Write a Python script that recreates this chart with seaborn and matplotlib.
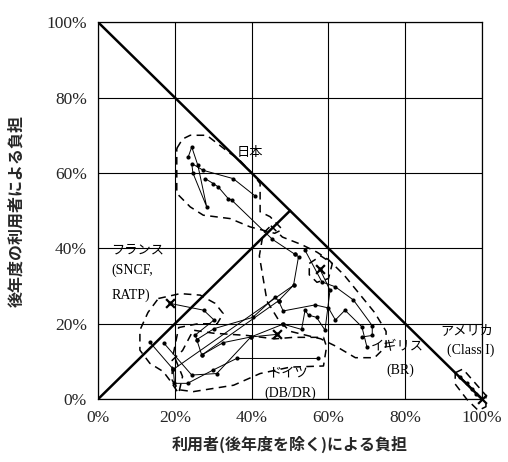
import matplotlib
matplotlib.use("Agg")
import matplotlib.pyplot as plt
import seaborn as sns
import pandas as pd

# ---------------- data (percent) ----------------
japan_a_x = [23.5, 24.4, 26.0, 28.3, 24.7, 24.4, 27.4, 35.2, 40.9]
japan_a_y = [64.3, 66.9, 62.0, 51.0, 60.0, 62.5, 60.7, 58.5, 53.9]
japan_b_x = [27.9, 30.0, 31.3, 33.9, 34.8, 45.4, 51.3]
japan_b_y = [58.5, 57.2, 56.3, 53.2, 52.8, 42.4, 38.4]

uk_a_x = [51.3, 52.2, 50.9, 47.0, 48.2, 56.5, 60.0, 61.8, 64.3, 68.7, 70.0]
uk_a_y = [38.4, 37.8, 30.2, 26.1, 23.4, 25.0, 24.2, 21.0, 23.6, 19.2, 13.9]
uk_b_x = [53.9, 58.3, 61.8, 66.5, 71.4, 71.4, 68.7]
uk_b_y = [39.5, 31.1, 29.8, 26.3, 19.5, 16.9, 16.5]
uk_c_x = [48.2, 53.0, 53.9, 54.8, 56.9, 59.1, 60.4, 57.8]
uk_c_y = [19.9, 18.5, 23.6, 22.3, 21.7, 18.3, 28.9, 34.4]

fr_x = [18.75, 27.5, 30.2, 25.3, 25.7, 30.2, 40.3, 46.0, 47.0]
fr_y = [25.4, 23.6, 21.0, 17.0, 15.8, 18.7, 21.7, 27.0, 26.1]

de_a_x = [13.4, 19.6, 19.9, 23.3, 29.9, 36.1, 57.4]
de_a_y = [15.2, 7.9, 4.2, 4.2, 7.7, 10.8, 10.8]
de_b_x = [17.2, 24.4, 30.9, 39.8, 46.7]
de_b_y = [14.8, 6.4, 6.8, 16.5, 17.2]
de_c_x = [25.7, 27.0, 32.6, 39.8, 48.2]
de_c_y = [15.8, 11.7, 15.0, 16.5, 19.9]
link_a_x = [19.6, 50.9]
link_a_y = [7.9, 30.2]
link_b_x = [27.0, 47.0]
link_b_y = [11.7, 26.1]

us_x = [94.3, 96.0, 97.5, 98.5, 100.0]
us_y = [5.9, 4.3, 2.7, 1.5, 0.0]

end_x = [18.75, 46.7, 57.8, 100.0]
end_y = [25.4, 17.2, 34.4, 0.0]

# dashed group outlines
jp_reg_x = [20.5, 22, 24.0, 28.3, 34.4, 36.5, 40, 42.2, 42.2, 44.8, 48, 46, 39.6, 34.4, 27.4, 24.0, 20.5, 20.5]
jp_reg_y = [66.5, 69, 70.0, 70.0, 65.2, 63.8, 60, 57.2, 49.7, 48.4, 45, 44, 45.7, 47.9, 48.8, 51.0, 54.6, 60]
uk_reg_x = [45, 48, 53, 57, 60, 64, 68, 72, 75, 75, 72, 67, 62, 58, 54, 50, 47, 44, 43, 42, 43]
uk_reg_y = [46, 43, 41, 39, 37, 33, 28, 23, 18, 14, 11, 11, 14, 16, 17, 18, 21, 26, 32, 38, 44]
uk_in_x = [55, 58, 61, 60, 57, 55]
uk_in_y = [36, 38, 36, 32, 31, 33]
de_reg_x = [19.3, 21, 24.8, 35.3, 42.2, 50, 58.7, 59.5, 58.7, 50.9, 46, 38.8, 30, 24.8, 22.0, 19.3]
de_reg_y = [5.0, 2.5, 2.0, 3.7, 6.8, 8.5, 8.8, 13.9, 16.4, 16.4, 16, 16.9, 17.5, 18.3, 12.9, 10.3]
fr_reg_x = [15.7, 21.4, 26.6, 30.5, 32.6, 31, 26, 21, 19.6, 22, 21, 18.7, 17.0, 13.5, 10.9, 10.9, 13]
fr_reg_y = [26.7, 28.0, 27.6, 25.4, 22.7, 20, 20, 19, 12, 6, 1.5, 5.0, 7.3, 9.5, 13.0, 18.3, 23]
us_reg_x = [93, 95, 101, 101, 99, 96, 93]
us_reg_y = [7, 8, 1, -2, -3, 0, 4]

ticks = [0, 20, 40, 60, 80, 100]
tick_labels = ["0%", "20%", "40%", "60%", "80%", "100%"]

# ---------------- figure ----------------
sns.set_style("white")
plt.rcParams['font.family'] = ['Noto Sans CJK JP', 'DejaVu Sans']
fig = plt.figure(figsize=(5.08, 4.62), dpi=100)
ax = fig.add_axes([0.193, 0.136, 0.756, 0.816])

def traj(x, y, **kw):
    df = pd.DataFrame({"x": x, "y": y})
    sns.lineplot(data=df, x="x", y="y", sort=False, estimator=None, ax=ax,
                 color="black", lw=0.7, **kw)

def dots(x, y):
    df = pd.DataFrame({"x": x, "y": y})
    sns.scatterplot(data=df, x="x", y="y", ax=ax, color="black", s=9,
                    edgecolor="black", linewidth=0, zorder=4)

for xs, ys in [(japan_a_x, japan_a_y), (japan_b_x, japan_b_y),
               (uk_a_x, uk_a_y), (uk_b_x, uk_b_y), (uk_c_x, uk_c_y),
               (fr_x, fr_y), (de_a_x, de_a_y), (de_b_x, de_b_y), (de_c_x, de_c_y),
               (link_a_x, link_a_y), (link_b_x, link_b_y), (us_x, us_y)]:
    traj(xs, ys)
    dots(xs, ys)

for xs, ys in [(jp_reg_x, jp_reg_y), (uk_reg_x, uk_reg_y), (uk_in_x, uk_in_y),
               (de_reg_x, de_reg_y), (fr_reg_x, fr_reg_y), (us_reg_x, us_reg_y)]:
    ax.plot(xs + xs[:1], ys + ys[:1], color="black", lw=1.1, ls=(0, (5, 3.5)),
            clip_on=False, zorder=3)

ax.scatter(end_x, end_y, marker="x", s=40, color="black", linewidths=1.6,
           zorder=5, clip_on=False)

# reference lines
ax.plot([0, 100], [100, 0], color="black", lw=1.8, zorder=5)
ax.plot([0, 50], [0, 50], color="black", lw=1.8, zorder=5)

ax.set_xlim(0, 100)
ax.set_ylim(0, 100)
ax.set_xticks(ticks)
ax.set_yticks(ticks)
ax.set_xticklabels(tick_labels, family="Liberation Serif", fontsize=12.5)
ax.set_yticklabels(tick_labels, family="Liberation Serif", fontsize=12.5)
ax.tick_params(length=0, pad=8)
ax.grid(True, color="black", lw=0.8)
ax.set_axisbelow(True)
for s in ax.spines.values():
    s.set_color("black")
    s.set_linewidth(0.9)

ax.set_xlabel("利用者(後年度を除く)による負担", fontsize=11.5, fontweight="bold", labelpad=7)
ax.set_ylabel("後年度の利用者による負担", fontsize=11.5, fontweight="bold", labelpad=16)

lab = dict(fontsize=9.5, color="black", zorder=6)
ser = dict(fontsize=10, color="black", family="Liberation Serif", zorder=6)
ax.text(39.5, 65.3, "日本", ha="center", va="center", **lab)
ax.text(3.5, 39.5, "フランス", ha="left", va="center", **lab)
ax.text(3.5, 34.2, "(SNCF,", ha="left", va="center", **ser)
ax.text(3.5, 27.6, "RATP)", ha="left", va="center", **ser)
ax.text(78, 13.8, "イギリス", ha="center", va="center", **lab)
ax.text(78.8, 7.7, "(BR)", ha="center", va="center", **ser)
ax.text(96, 18.3, "アメリカ", ha="center", va="center", **lab)
ax.text(97, 13.0, "(Class I)", ha="center", va="center", **ser)
ax.text(49.5, 6.9, "ドイツ", ha="center", va="center", **lab)
ax.text(50, 1.6, "(DB/DR)", ha="center", va="center", **ser)

fig.savefig("out.png", dpi=100)
